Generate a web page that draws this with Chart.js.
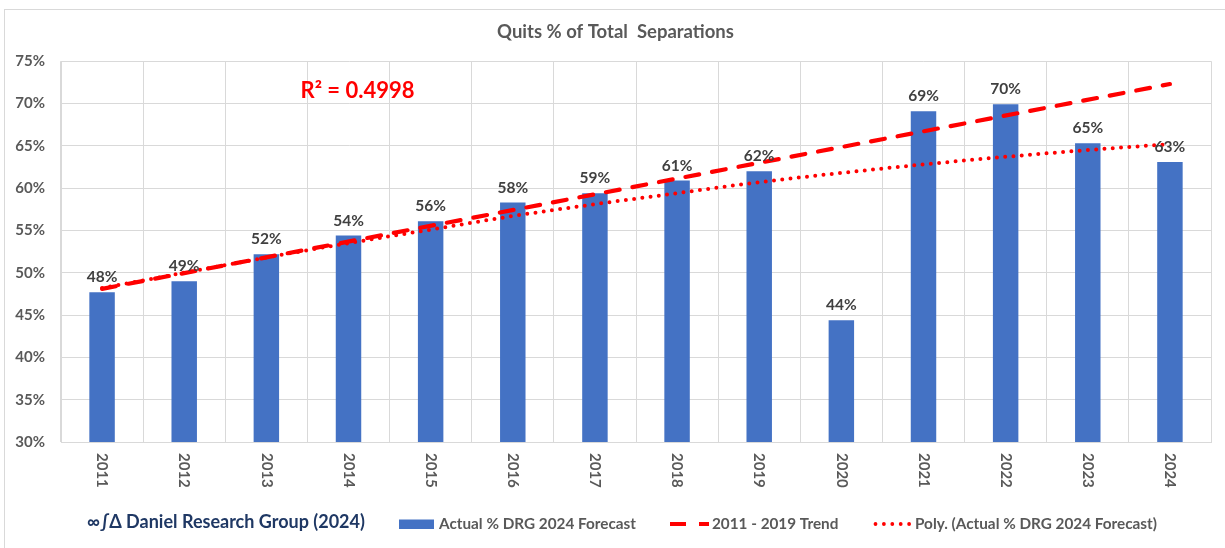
<!DOCTYPE html>
<html>
<head>
<meta charset="utf-8">
<script src="https://cdn.jsdelivr.net/npm/chart.js@4.4.1/dist/chart.umd.min.js"></script>
<style>
  html, body { margin: 0; padding: 0; background: #ffffff; }
  #wrap { width: 1225px; height: 548px; position: relative; }
</style>
</head>
<body>
<div id="wrap"><canvas id="c"></canvas></div>
<script>
// ---------- data ----------
const years = ['2011','2012','2013','2014','2015','2016','2017','2018','2019','2020','2021','2022','2023','2024'];
const actualPct = [47.7, 49.0, 52.2, 54.4, 56.1, 58.3, 59.4, 60.9, 62.0, 44.4, 69.1, 69.9, 65.3, 63.1];
// straight 2011-2019 trend line: only its two end points are read, the line spans between them
const trendPct = [48.1, null, null, null, null, null, null, null, null, null, null, null, null, 72.3];
const polyPct = [48.2, 50.0, 51.8, 53.5, 55.1, 56.7, 58.1, 59.4, 60.7, 61.8, 62.8, 63.7, 64.5, 65.2];
const yTicks = [30, 35, 40, 45, 50, 55, 60, 65, 70, 75];
const seriesNames = ['Actual % DRG 2024 Forecast', '2011 - 2019 Trend', 'Poly. (Actual % DRG 2024 Forecast)'];
const chartTitle = 'Quits % of Total  Separations';
const rSquaredText = 'R\u00B2 = 0.4998';
const creditText = '\u221E\u222B\u0394 Daniel Research Group (2024)';

// ---------- styling ----------
const FONT = 'Lato, "Open Sans", "DejaVu Sans", sans-serif';
const GRID = '#d9d9d9';
const TEXT = '#595959';
const BLUE = '#4472C4';
const RED = '#FF0000';

const framePlugin = {
  id: 'frame',
  beforeDraw(chart) {
    const c = chart.ctx;
    c.save();
    c.fillStyle = '#ffffff';
    c.fillRect(0, 0, chart.width, chart.height);
    c.strokeStyle = GRID;
    c.lineWidth = 1;
    c.strokeRect(4.5, 9.5, chart.width + 20, chart.height + 20);
    c.restore();
  }
};

const labelsPlugin = {
  id: 'labels',
  afterDatasetsDraw(chart) {
    const c = chart.ctx;
    const xs = chart.scales.x, ys = chart.scales.y;
    c.save();
    // bar value labels
    c.font = 'bold 15.5px ' + FONT;
    c.fillStyle = '#404040';
    c.textAlign = 'center';
    c.textBaseline = 'alphabetic';
    chart.getDatasetMeta(0).data.forEach((bar, i) => {
      c.fillText(Math.round(actualPct[i]) + '%', bar.x, bar.y - 10);
    });
    // rotated category labels (reading top to bottom)
    c.font = 'bold 15px ' + FONT;
    c.fillStyle = TEXT;
    c.textAlign = 'left';
    c.textBaseline = 'middle';
    years.forEach((yr, i) => {
      const x = xs.getPixelForTick(i);
      c.save();
      c.translate(x, chart.chartArea.bottom + 11);
      c.rotate(Math.PI / 2);
      c.fillText(yr, 0, 0);
      c.restore();
    });
    // R squared annotation
    c.font = 'bold 22px ' + FONT;
    c.fillStyle = RED;
    c.textAlign = 'center';
    c.textBaseline = 'middle';
    c.fillText(rSquaredText, xs.getPixelForValue(3) + 9, ys.getPixelForValue(71.5));
    c.restore();
  }
};

const legendPlugin = {
  id: 'customLegend',
  afterDraw(chart) {
    const c = chart.ctx;
    const ds = chart.data.datasets;
    const cy = 524;
    c.save();
    // credit text
    c.font = 'bold 18px ' + FONT;
    c.fillStyle = '#1F3864';
    c.textAlign = 'left';
    c.textBaseline = 'middle';
    c.fillText(creditText, 87, 522);

    c.font = 'bold 15.3px ' + FONT;
    // bar series
    c.fillStyle = ds[0].backgroundColor;
    c.fillRect(399, 519.5, 35, 9.5);
    c.fillStyle = TEXT;
    c.fillText(ds[0].label, 439, cy);
    // dashed trend
    c.strokeStyle = ds[1].borderColor;
    c.lineWidth = 4;
    c.lineCap = 'butt';
    c.setLineDash([16, 13]);
    c.beginPath(); c.moveTo(670, cy); c.lineTo(709, cy); c.stroke();
    c.setLineDash([]);
    c.fillStyle = TEXT;
    c.fillText(ds[1].label, 712, cy);
    // dotted poly
    c.strokeStyle = ds[2].borderColor;
    c.lineWidth = 3.8;
    c.lineCap = 'round';
    c.setLineDash([0, 8.4]);
    c.beginPath(); c.moveTo(875.5, cy); c.lineTo(911, cy); c.stroke();
    c.setLineDash([]);
    c.fillStyle = TEXT;
    c.fillText(ds[2].label, 915, cy);
    c.restore();
  }
};

new Chart(document.getElementById('c'), {
  type: 'bar',
  data: {
    labels: years,
    datasets: [
      {
        type: 'bar',
        label: seriesNames[0],
        data: actualPct,
        backgroundColor: BLUE,
        borderWidth: 0,
        categoryPercentage: 1.0,
        barPercentage: 0.31,
        order: 2
      },
      {
        type: 'line',
        label: seriesNames[1],
        data: trendPct,
        spanGaps: true,
        borderColor: RED,
        borderWidth: 4.2,
        borderDash: [14, 13],
        borderCapStyle: 'round',
        pointRadius: 0,
        fill: false,
        tension: 0,
        order: 1
      },
      {
        type: 'line',
        label: seriesNames[2],
        data: polyPct,
        borderColor: RED,
        borderWidth: 4,
        borderDash: [0, 8.3],
        borderCapStyle: 'round',
        pointRadius: 0,
        fill: false,
        cubicInterpolationMode: 'monotone',
        order: 0
      }
    ]
  },
  options: {
    responsive: true,
    maintainAspectRatio: false,
    animation: false,
    layout: { padding: { left: 6, right: 0, top: 0, bottom: 0 } },
    plugins: {
      legend: { display: false },
      tooltip: { enabled: false },
      title: {
        display: true,
        text: chartTitle,
        color: TEXT,
        font: { family: FONT, size: 18.5, weight: 'bold', lineHeight: 1.2 },
        padding: { top: 21, bottom: 18 }
      }
    },
    scales: {
      x: {
        type: 'category',
        offset: true,
        grid: { display: true, color: GRID, lineWidth: 1, offset: true, drawTicks: false },
        border: { display: true, color: GRID },
        ticks: { display: false },
        afterFit(scale) { scale.height = 106; }
      },
      y: {
        min: yTicks[0],
        max: yTicks[yTicks.length - 1],
        afterBuildTicks(scale) { scale.ticks = yTicks.map(v => ({ value: v })); },
        grid: { color: GRID, lineWidth: 1, drawTicks: false },
        border: { display: true, color: GRID },
        ticks: {
          color: TEXT,
          padding: 16,
          font: { family: FONT, size: 15, weight: 'bold' },
          callback: v => v + '%'
        },
        afterFit(scale) { scale.width = 55; }
      },
      rightSpace: {
        type: 'linear',
        position: 'right',
        display: true,
        grid: { display: false, drawOnChartArea: false },
        border: { display: false },
        ticks: { display: false },
        afterFit(scale) { scale.width = 14; }
      }
    }
  },
  plugins: [framePlugin, labelsPlugin, legendPlugin]
});
</script>
</body>
</html>
